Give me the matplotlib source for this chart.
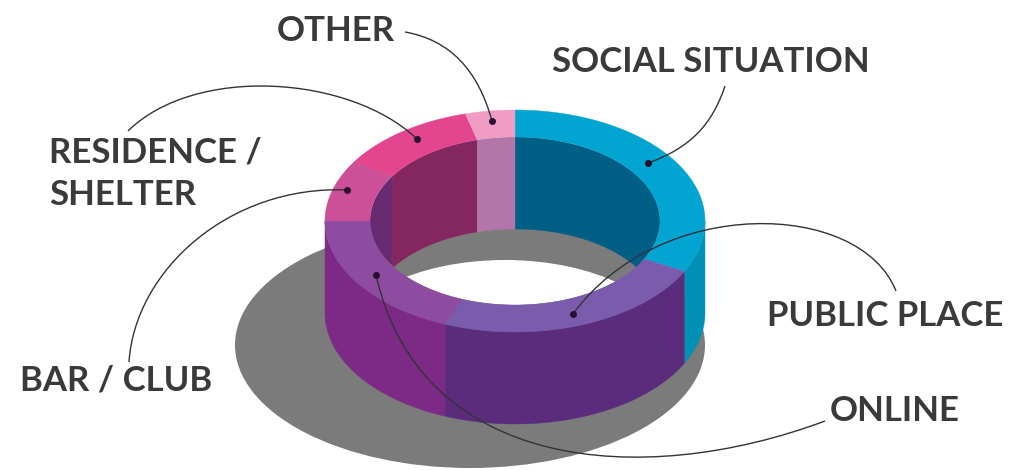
#!/usr/bin/env python
import numpy as np
import matplotlib
matplotlib.use('Agg')
import matplotlib.pyplot as plt
from matplotlib.patches import Ellipse, Polygon, PathPatch
from matplotlib.path import Path

# share of the ring per category, clockwise from 12 o'clock
categories = ['SOCIAL SITUATION', 'PUBLIC PLACE', 'ONLINE', 'BAR / CLUB', 'RESIDENCE /\nSHELTER', 'OTHER']
shares = [32.5, 23.5, 19.0, 9.0, 11.8, 4.2]

top_colors = ['#02a4d1', '#7a5bac', '#8d4c9f', '#cc5098', '#e3468e', '#f19cc5']
outer_colors = ['#0190b6', '#5a2c7b', '#7c2a86', '#7c2a86', '#7c2a86', '#7c2a86']
inner_colors = ['#015f86', '#015f86', '#015f86', '#682a70', '#84265f', '#b277a8']

label_xy = [(552, 62), (767, 316), (830, 411), (20, 381), (49, 174), (277, 31)]
# leader lines: text end, two controls, dot on the ring
leaders = [
    [(725, 86), (712, 125), (690, 148), (648, 163)],
    [(896, 291), (860, 200), (660, 195), (573, 314)],
    [(825, 421), (640, 490), (420, 470), (376, 275)],
    [(129, 362), (135, 270), (230, 185), (347, 190)],
    [(128, 131), (195, 65), (350, 75), (417, 139)],
    [(405, 32), (450, 40), (478, 70), (492, 121)],
]

cx, cy = 515, 221
rx_out, ry_out = 190, 111
rx_in, ry_in = 145, 84
depth = 92
grey = '#7b7b7b'


def arc(rx, ry, a0, a1, dy=0):
    # angles in degrees, clockwise from the top of the ellipse
    t = np.radians(np.linspace(a0, a1, 80))
    return np.column_stack([cx + rx*np.sin(t), cy + dy - ry*np.cos(t)])


def wall(rx, ry, a0, a1):
    return np.vstack([arc(rx, ry, a0, a1), arc(rx, ry, a1, a0, depth)])


fig = plt.figure(figsize=(10.19, 4.70), dpi=100)
ax = fig.add_axes([0, 0, 1, 1])
ax.set_xlim(0, 1019)
ax.set_ylim(470, 0)
ax.axis('off')

# shadow on the ground
ax.add_patch(Ellipse((470, 345), 470, 246, fc=grey, ec='none', zorder=1))

edges = np.concatenate([[0], np.cumsum(shares)])/sum(shares)*360

# outer wall, only the front half shows
for i in range(len(shares)):
    a0, a1 = max(edges[i], 90), min(edges[i+1], 270)
    if a1 > a0:
        ax.add_patch(Polygon(wall(rx_out, ry_out, a0, a1), fc=outer_colors[i], ec=outer_colors[i], lw=0.3, zorder=2))

# see-through hole
hole_clip = Ellipse((cx, cy), rx_in*2, ry_in*2, transform=ax.transData)
ax.add_patch(Ellipse((cx, cy), rx_in*2, ry_in*2, fc=grey, ec='none', zorder=3))
hole = Ellipse((505, 345), 330, 170, fc='white', ec='none', zorder=3.1)
ax.add_patch(hole)
hole.set_clip_path(hole_clip)

# inner wall, only the back half shows
for i in range(len(shares)):
    for lo, hi in [(0, 90), (270, 360)]:
        a0, a1 = max(edges[i], lo), min(edges[i+1], hi)
        if a1 > a0:
            p = Polygon(wall(rx_in, ry_in, a0, a1), fc=inner_colors[i], ec=inner_colors[i], lw=0.3, zorder=4)
            ax.add_patch(p)
            p.set_clip_path(hole_clip)

# top face
for i in range(len(shares)):
    pts = np.vstack([arc(rx_out, ry_out, edges[i], edges[i+1]), arc(rx_in, ry_in, edges[i+1], edges[i])])
    ax.add_patch(Polygon(pts, fc=top_colors[i], ec=top_colors[i], lw=0.3, zorder=5))

# leader lines
for pts in leaders:
    path = Path(pts, [Path.MOVETO, Path.CURVE4, Path.CURVE4, Path.CURVE4])
    ax.add_patch(PathPatch(path, fc='none', ec='#33333a', lw=1.0, zorder=6))
    ax.plot(pts[-1][0], pts[-1][1], 'o', ms=4, color='#2a1030', zorder=7)

for name, (x, y) in zip(categories, label_xy):
    ax.text(x, y, name, family='Lato', weight='bold', fontsize=25, color='#3a3a3c',
            ha='left', va='center', linespacing=1.4, zorder=8)

plt.savefig('out.png', dpi=100)
